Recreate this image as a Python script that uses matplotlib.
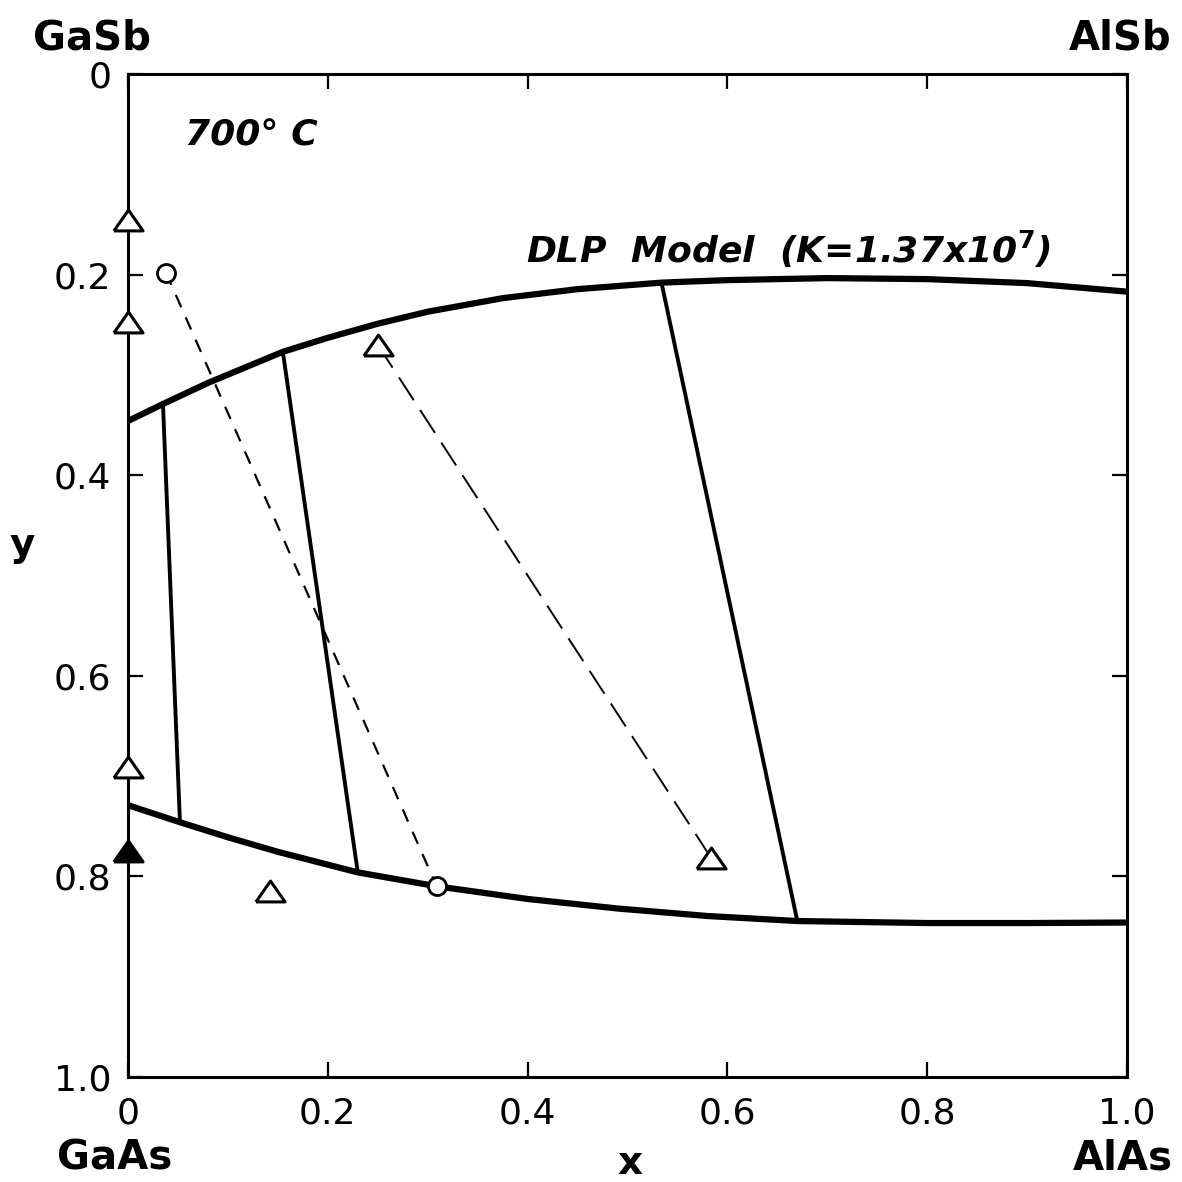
import matplotlib
matplotlib.use("Agg")
import matplotlib.pyplot as plt

# Phase boundary curves (DLP model)
upper_x = [0, 0.035, 0.08, 0.155, 0.2, 0.25, 0.3, 0.375, 0.45, 0.534, 0.6, 0.7, 0.8, 0.9, 1.0]
upper_y = [0.346, 0.329, 0.308, 0.277, 0.263, 0.249, 0.237, 0.2235, 0.2145, 0.208, 0.2055, 0.2035, 0.2045, 0.2085, 0.217]
lower_x = [0, 0.052, 0.1, 0.15, 0.23, 0.31, 0.4, 0.49, 0.58, 0.67, 0.8, 0.9, 1.0]
lower_y = [0.729, 0.746, 0.761, 0.7755, 0.796, 0.810, 0.8225, 0.832, 0.8395, 0.8445, 0.8465, 0.8465, 0.846]

# Solid tie lines: (x_upper, y_upper, x_lower, y_lower)
tie_x1 = [0.035, 0.155, 0.534]
tie_y1 = [0.329, 0.277, 0.208]
tie_x2 = [0.052, 0.230, 0.670]
tie_y2 = [0.746, 0.796, 0.8445]

# Experimental tie lines (dashed)
circ_x = [0.038, 0.309]
circ_y = [0.198, 0.810]
tri_line_x = [0.250, 0.584]
tri_line_y = [0.270, 0.782]

# Other experimental points
open_tri_x = [0, 0, 0, 0.142]
open_tri_y = [0.146, 0.247, 0.691, 0.815]
filled_tri_x = [0]
filled_tri_y = [0.775]

ticks = [0, 0.2, 0.4, 0.6, 0.8, 1.0]
tick_labels = ["0", "0.2", "0.4", "0.6", "0.8", "1.0"]

W = 1182
fig = plt.figure(figsize=(11.82, 11.82), dpi=100)
ax = fig.add_axes([128 / W, 1 - 1077 / W, (1127 - 128) / W, (1077 - 74) / W])
ax.set_xlim(0, 1)
ax.set_ylim(1, 0)

for s in ax.spines.values():
    s.set_linewidth(2.2)

ax.set_xticks(ticks)
ax.set_yticks(ticks)
ax.set_xticklabels(tick_labels)
ax.set_yticklabels(tick_labels)
ax.tick_params(direction="in", length=11, width=1.6, top=True, right=True,
               labelsize=26, pad=12)
ax.tick_params(axis="x", pad=14)

ax.plot(upper_x, upper_y, color="black", lw=4.5, solid_capstyle="butt",
        solid_joinstyle="round", zorder=3)
ax.plot(lower_x, lower_y, color="black", lw=4.5, solid_capstyle="butt",
        solid_joinstyle="round", zorder=3)

for xa, ya, xb, yb in zip(tie_x1, tie_y1, tie_x2, tie_y2):
    ax.plot([xa, xb], [ya, yb], color="black", lw=2.8, zorder=3)

ax.plot(circ_x, circ_y, color="black", lw=1.6, dashes=(6, 5), zorder=4)
ax.plot(tri_line_x, tri_line_y, color="black", lw=1.4, dashes=(14, 6), zorder=4)

tri = [(-0.7, -0.5), (0.7, -0.5), (0, 0.5), (-0.7, -0.5)]
ax.plot(circ_x, circ_y, linestyle="none", marker="o", ms=13, mfc="white",
        mec="black", mew=2.0, zorder=6)
ax.plot(tri_line_x, tri_line_y, linestyle="none", marker=tri, ms=21, mfc="white",
        mec="black", mew=2.2, zorder=6)
ax.plot(open_tri_x, open_tri_y, linestyle="none", marker=tri, ms=21, mfc="white",
        mec="black", mew=2.2, zorder=6, clip_on=False)
ax.plot(filled_tri_x, filled_tri_y, linestyle="none", marker=tri, ms=21, mfc="black",
        mec="black", mew=2.2, zorder=6, clip_on=False)

ax.text(0.057, 0.061, "700° C", fontsize=26, fontstyle="italic", fontweight="bold",
        ha="left", va="center")
ax.text(0.398, 0.188, r"DLP  Model  (K=1.37x10$^{\mathbf{7}}$)", fontsize=26,
        fontstyle="italic", fontweight="bold", ha="left", va="baseline")

fig.text(92 / W, 1 - 38 / W, "GaSb", fontsize=29, fontweight="bold", ha="center", va="center")
fig.text(1120 / W, 1 - 38 / W, "AlSb", fontsize=29, fontweight="bold", ha="center", va="center")
fig.text(115 / W, 1 - 1158 / W, "GaAs", fontsize=29, fontweight="bold", ha="center", va="center")
fig.text(1123 / W, 1 - 1158 / W, "AlAs", fontsize=29, fontweight="bold", ha="center", va="center")
fig.text(630 / W, 1 - 1163 / W, "x", fontsize=28, fontweight="bold", ha="center", va="center")
fig.text(22 / W, 1 - 545 / W, "y", fontsize=28, fontweight="bold", ha="center", va="center")

fig.savefig("out.png", dpi=100, facecolor="white")
